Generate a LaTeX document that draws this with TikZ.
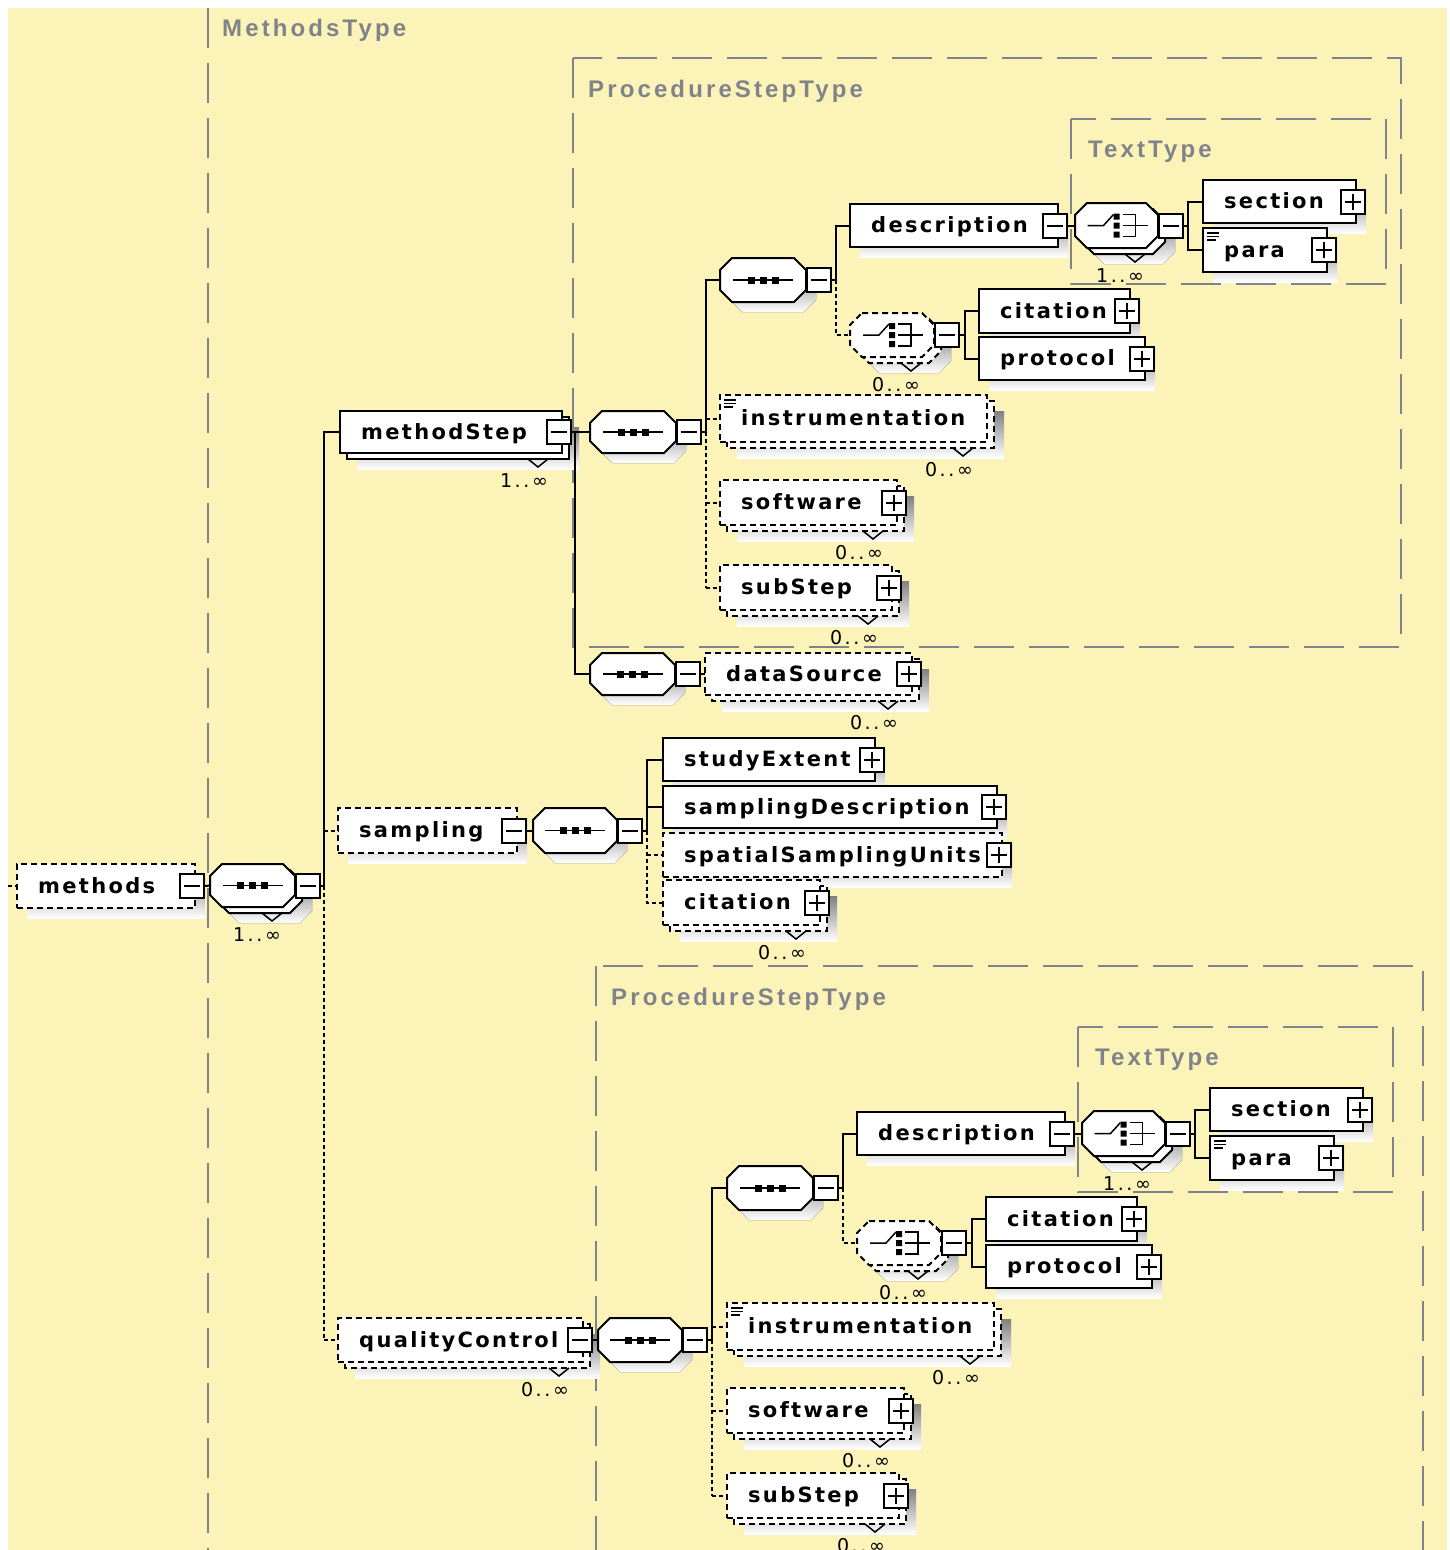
\documentclass[tikz,border=0pt]{standalone}
\usepackage{fontspec}
\setmainfont{DejaVu Sans}
\newfontfamily\elemfont[LetterSpace=11]{DejaVu Sans}
\newfontfamily\typefont[LetterSpace=13]{Liberation Sans}
\newfontfamily\occfont[LetterSpace=14]{DejaVu Sans}

\definecolor{bgyellow}{RGB}{252,243,184}
\definecolor{typegray}{RGB}{128,131,138}
\definecolor{shade}{RGB}{172,176,180}

\pgfdeclarelayer{back}
\pgfdeclarelayer{shadow}
\pgfsetlayers{back,shadow,main}

\tikzset{
  conn/.style={line width=2pt, draw=black},
  optconn/.style={conn, dash pattern=on 4pt off 3pt},
  solidline/.style={line width=2pt},
  dashline/.style={line width=2pt, dash pattern=on 6pt off 4pt},
  ebox/.style={draw=black, fill=white, inner sep=0pt, outer sep=0pt},
  hook/.style={inner sep=0pt, outer sep=0pt},
  etext/.style={font=\elemfont\bfseries\fontsize{21}{25}\selectfont, inner sep=0pt},
  tytext/.style={font=\typefont\bfseries\fontsize{24}{28}\selectfont, text=typegray, inner sep=0pt},
  octext/.style={font=\occfont\fontsize{19}{22}\selectfont, inner sep=0pt},
  typebox/.style={draw=typegray, line width=2pt, dash pattern=on 40pt off 15pt},
  pmbox/.style={draw=black, fill=white, line width=2pt, minimum size=24pt, inner sep=0pt},
  pmminus/.style={pmbox, path picture={\draw[line width=2pt]
      ([xshift=-8pt]path picture bounding box.center) -- ([xshift=8pt]path picture bounding box.center);}},
  pmplus/.style={pmbox, path picture={\draw[line width=2pt]
      ([xshift=-8pt]path picture bounding box.center) -- ([xshift=8pt]path picture bounding box.center)
      ([yshift=-8pt]path picture bounding box.center) -- ([yshift=8pt]path picture bounding box.center);}},
}

% octagonal compositor outline: style, x1, y1, x2, y2
\newcommand\Oct[5]{\draw[#1] ({#2+12},{#3}) -- ({#4-12},{#3}) -- ({#4},{#3+12}) -- ({#4},{#5-12})
  -- ({#4-12},{#5}) -- ({#2+12},{#5}) -- ({#2},{#5-12}) -- ({#2},{#3+12}) -- cycle;}
\newcommand\OctFill[5]{\fill[#1] ({#2+12},{#3}) -- ({#4-12},{#3}) -- ({#4},{#3+12}) -- ({#4},{#5-12})
  -- ({#4-12},{#5}) -- ({#2+12},{#5}) -- ({#2},{#5-12}) -- ({#2},{#3+12}) -- cycle;}

% sequence symbol centred at (cx, cy)
\newcommand\SeqIcon[2]{%
  \draw[line width=1.5pt] ({#1-30},{#2}) -- ({#1+30},{#2});
  \foreach \d in {-12,0,12} \fill ({#1+(\d)-3.5},{#2-3.5}) rectangle ({#1+(\d)+3.5},{#2+3.5});}

% choice symbol centred at (cx, cy)
\newcommand\ChoiceIcon[2]{%
  \draw[line width=1.5pt] ({#1-29},{#2}) -- ({#1-13},{#2}) -- ({#1-3},{#2-11});
  \fill ({#1-3},{#2-12}) rectangle ({#1+3},{#2-6})
        ({#1-3},{#2-3}) rectangle ({#1+3},{#2+3})
        ({#1-3},{#2+6}) rectangle ({#1+3},{#2+12});
  \draw[line width=1.5pt] ({#1+6},{#2-11}) -- ({#1+19},{#2-11}) -- ({#1+19},{#2+11}) -- ({#1+6},{#2+11})
        ({#1+6},{#2}) -- ({#1+31},{#2});}

% element: border style, name, x1, y1, x2, y2, text, occurrence (empty = single)
\newcommand\Elem[8]{%
  \if\relax\detokenize{#8}\relax
    \begin{pgfonlayer}{shadow}\fill[shade] ({#3+10},{#4+10}) rectangle ({#5+10},{#6+10});\end{pgfonlayer}
  \else
    \begin{pgfonlayer}{shadow}\fill[shade] ({#3+17},{#4+16}) rectangle ({#5+17},{#6+16});\end{pgfonlayer}
    \draw[ebox,#1] ({#3+7},{#4+6}) rectangle ({#5+7},{#6+6});
    \draw[line width=1.5pt] ({#5-34},{#6+6}) -- ({#5-24},{#6+14}) -- ({#5-14},{#6+6});
    \node[octext] (#2-o) at ({#5-38},{#6+28}) {#8};
  \fi
  \node[ebox,#1,anchor=north west,minimum width={(#5-#3)*1pt},minimum height={(#6-#4)*1pt}] (#2) at (#3,#4) {};
  \node[etext,anchor=base west] (#2-t) at ({#3+21},{(#4+#6)/2+7}) {#7};}

% compositor: border style, name, x1, y1, x2, y2, symbol macro, occurrence
\newcommand\Hex[8]{%
  \if\relax\detokenize{#8}\relax
    \begin{pgfonlayer}{shadow}\OctFill{shade}{#3+10}{#4+10}{#5+10}{#6+10}\end{pgfonlayer}
  \else
    \begin{pgfonlayer}{shadow}\OctFill{shade}{#3+17}{#4+16}{#5+17}{#6+16}\end{pgfonlayer}
    \Oct{ebox,#1}{#3+7}{#4+6}{#5+7}{#6+6}
    \draw[line width=1.5pt] ({#5-33},{#6+6}) -- ({#5-23},{#6+14}) -- ({#5-13},{#6+6});
    \node[octext] (#2-o) at ({#5-38},{#6+28}) {#8};
  \fi
  \Oct{ebox,#1}{#3}{#4}{#5}{#6}
  \node[hook,anchor=north west,minimum width={(#5-#3)*1pt},minimum height={(#6-#4)*1pt}] (#2) at (#3,#4) {};
  #7{(#3+#5)/2}{(#4+#6)/2}
  \node[pmminus] (#2-pm) at ({#5+12.5},{(#4+#6)/2}) {};}

\newcommand\PM[2]{\node[pm#2] (#1-pm) at ([xshift=-3pt]#1.east) {};}
\newcommand\Mixed[1]{\draw[line width=1.2pt] ([shift={(4pt,-5pt)}]#1.north west) -- ++(12,0)
  ++(-12,3.5) -- ++(12,0) ++(-12,3.5) -- ++(9,0);}

% content of ProcedureStepType: name prefix, node feeding the block
\newcommand\ProcBlock[2]{%
  \begin{pgfonlayer}{back}\draw[typebox] (1071,119) rectangle (1386,284);\end{pgfonlayer}
  \node[tytext,anchor=base west] (#1tt) at (1088,157) {TextType};
  \Hex{solidline}{#1seq}{720}{258}{806}{302}{\SeqIcon}{}
  \Elem{solidline}{#1desc}{850}{204}{1058}{247}{description}{}\PM{#1desc}{minus}
  \Hex{solidline}{#1tch}{1075}{203}{1158}{248}{\ChoiceIcon}{1..∞}
  \Elem{solidline}{#1sec}{1203}{180}{1356}{223}{section}{}\PM{#1sec}{plus}
  \Elem{solidline}{#1para}{1203}{228}{1327}{272}{para}{}\PM{#1para}{plus}\Mixed{#1para}
  \Hex{dashline}{#1ch}{850}{313}{934}{357}{\ChoiceIcon}{0..∞}
  \Elem{solidline}{#1cit}{979}{289}{1130}{333}{citation}{}\PM{#1cit}{plus}
  \Elem{solidline}{#1prot}{979}{337}{1145}{380}{protocol}{}\PM{#1prot}{plus}
  \Elem{dashline}{#1instr}{720}{395}{987}{442}{instrumentation}{0..∞}\Mixed{#1instr}
  \Elem{dashline}{#1soft}{720}{480}{897}{525}{software}{0..∞}\PM{#1soft}{plus}
  \Elem{dashline}{#1sub}{720}{565}{892}{610}{subStep}{0..∞}\PM{#1sub}{plus}
  % sequence spine
  \coordinate (#1spA) at ([xshift=4pt]#2.east);
  \draw[conn] (#2.east) -- (#1spA) -- (#1spA |- #1seq.west) -- (#1seq.west);
  \draw[optconn] (#1spA) -- (#1spA |- #1sub.west);
  \foreach \n in {instr,soft,sub} \draw[optconn] (#1spA |- #1\n.west) -- (#1\n.west);
  % inner sequence spine
  \coordinate (#1spB) at ([xshift=4pt]#1seq-pm.east);
  \draw[conn] (#1seq-pm.east) -- (#1spB) -- (#1spB |- #1desc.west) -- (#1desc.west);
  \draw[optconn] (#1spB) -- (#1spB |- #1ch.west) -- (#1ch.west);
  \draw[conn] (#1desc-pm.east) -- (#1tch.west);
  % choice spines
  \coordinate (#1spC) at ([xshift=4pt]#1tch-pm.east);
  \draw[conn] (#1tch-pm.east) -- (#1spC);
  \draw[conn] (#1sec.west) -| (#1spC) |- (#1para.west);
  \coordinate (#1spD) at ([xshift=5pt]#1ch-pm.east);
  \draw[conn] (#1ch-pm.east) -- (#1spD);
  \draw[conn] (#1cit.west) -| (#1spD) |- (#1prot.west);}

\begin{document}
\begin{tikzpicture}[x=1pt,y=-1pt]
\useasboundingbox (0,0) rectangle (1450,1550);
\begin{pgfonlayer}{back}
  \fill[white] (0,0) rectangle (1450,1550);
  \fill[bgyellow] (8,8) rectangle (1447,1550);
  \draw[typebox] (208,8) -- (208,1550);
  \draw[typebox] (573,58) rectangle (1401,647);
  \draw[typebox] (596,966) rectangle (1423,1620);
\end{pgfonlayer}
\node[tytext,anchor=base west] (mtype) at (222,36) {MethodsType};
\node[tytext,anchor=base west] (pst1) at (588,97) {ProcedureStepType};
\node[tytext,anchor=base west] (pst2) at (611,1005) {ProcedureStepType};

% root element and its sequence
\Elem{dashline}{methods}{17}{864}{195}{908}{methods}{}\PM{methods}{minus}
\coordinate (rootin) at (8,886);
\draw[optconn] (rootin) -- (methods.west);
\Hex{solidline}{seqM}{210}{864}{295}{907}{\SeqIcon}{1..∞}
\draw[conn] (methods-pm.east) -- (seqM.west);

% methodStep
\Elem{solidline}{methodStep}{340}{411}{562}{453}{methodStep}{1..∞}\PM{methodStep}{minus}
\Hex{solidline}{seq2}{590}{411}{676}{453}{\SeqIcon}{}
\Hex{solidline}{seqD}{590}{653}{675}{695}{\SeqIcon}{}
\Elem{dashline}{dataSource}{705}{653}{912}{695}{dataSource}{0..∞}\PM{dataSource}{plus}
\coordinate (spS) at ([xshift=3pt]methodStep-pm.east);
\draw[conn] (methodStep-pm.east) -- (spS) -- (seq2.west);
\draw[conn] (spS) |- (seqD.west);
\draw[conn] (seqD-pm.east) -- (dataSource.west);

% sampling
\Elem{dashline}{sampling}{338}{808}{517}{853}{sampling}{}\PM{sampling}{minus}
\Hex{solidline}{seqS}{533}{808}{617}{853}{\SeqIcon}{}
\draw[conn] (sampling-pm.east) -- (seqS.west);
\Elem{solidline}{studyExtent}{663}{738}{875}{781}{studyExtent}{}\PM{studyExtent}{plus}
\Elem{solidline}{sampDesc}{663}{786}{997}{828}{samplingDescription}{}\PM{sampDesc}{plus}
\Elem{dashline}{spatial}{663}{833}{1002}{877}{spatialSamplingUnits}{}\PM{spatial}{plus}
\Elem{dashline}{citS}{663}{880}{820}{925}{citation}{0..∞}\PM{citS}{plus}
\coordinate (spSS) at ([xshift=4pt]seqS-pm.east);
\draw[conn] (seqS-pm.east) -- (spSS);
\draw[conn] (spSS) |- (studyExtent.west);
\draw[conn] (spSS |- sampDesc.west) -- (sampDesc.west);
\draw[optconn] (spSS) |- (citS.west);
\draw[optconn] (spSS |- spatial.west) -- (spatial.west);

% qualityControl
\Elem{dashline}{qc}{338}{1318}{583}{1362}{qualityControl}{0..∞}\PM{qc}{minus}
\Hex{solidline}{seqQ}{598}{1318}{682}{1362}{\SeqIcon}{}
\draw[conn] (qc-pm.east) -- (seqQ.west);

% spine of MethodsType
\coordinate (spM) at ([xshift=3pt]seqM-pm.east);
\draw[conn] (seqM-pm.east) -- (spM);
\draw[conn] (spM) -- (spM |- methodStep.west) -- (methodStep.west);
\draw[optconn] (spM |- sampling.west) -- (sampling.west);
\draw[optconn] (spM) -- (spM |- qc.west) -- (qc.west);

% the two ProcedureStepType blocks
\begin{scope}
  \ProcBlock{a}{seq2-pm}
\end{scope}
\begin{scope}[shift={(7,908)}]
  \ProcBlock{b}{seqQ-pm}
\end{scope}
\end{tikzpicture}
\end{document}
